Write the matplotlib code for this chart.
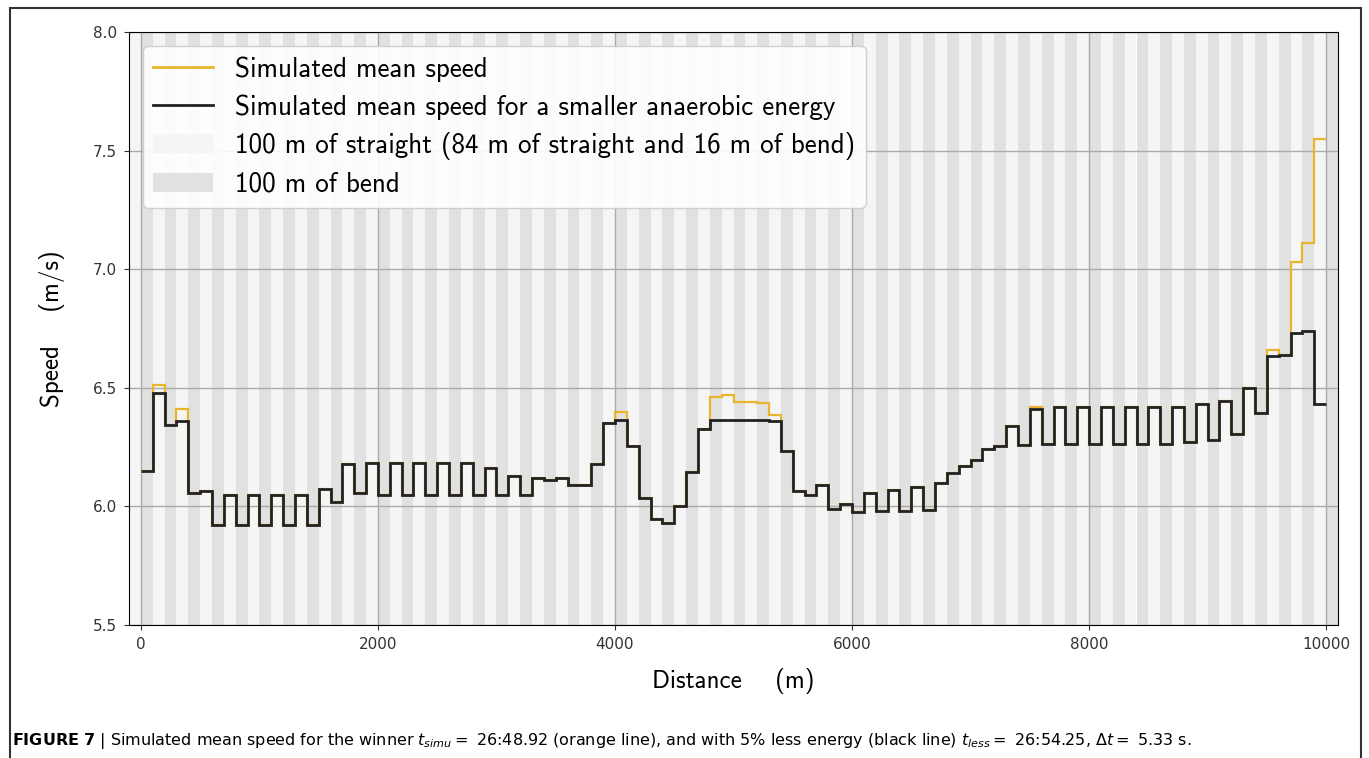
import numpy as np
import matplotlib
matplotlib.use("Agg")
import matplotlib.pyplot as plt
from matplotlib.patches import Patch, Rectangle
from matplotlib.lines import Line2D

# 100 m segments, 0 .. 10000 m
seg_edges = np.arange(0, 10001, 100)

# simulated mean speed (orange)
speed_simu = [
    6.15, 6.51, 6.345, 6.41, 6.055, 6.065, 5.92, 6.05, 5.92, 6.05,
    5.92, 6.05, 5.92, 6.05, 5.92, 6.075, 6.02, 6.18, 6.055, 6.185,
    6.05, 6.185, 6.05, 6.185, 6.05, 6.185, 6.05, 6.185, 6.05, 6.16,
    6.05, 6.13, 6.05, 6.12, 6.11, 6.12, 6.09, 6.09, 6.18, 6.35,
    6.40, 6.255, 6.035, 5.945, 5.93, 6.0, 6.145, 6.325, 6.46, 6.47,
    6.44, 6.44, 6.435, 6.385, 6.235, 6.065, 6.05, 6.09, 5.99, 6.01,
    5.975, 6.055, 5.98, 6.07, 5.98, 6.08, 5.985, 6.10, 6.14, 6.17,
    6.195, 6.24, 6.255, 6.34, 6.26, 6.42, 6.265, 6.42, 6.265, 6.42,
    6.265, 6.42, 6.265, 6.42, 6.265, 6.42, 6.265, 6.42, 6.27, 6.43,
    6.28, 6.445, 6.305, 6.50, 6.395, 6.66, 6.64, 7.03, 7.11, 7.55,
]

# simulated mean speed with a smaller anaerobic energy (black)
speed_less = [
    6.15, 6.48, 6.345, 6.36, 6.055, 6.065, 5.92, 6.05, 5.92, 6.05,
    5.92, 6.05, 5.92, 6.05, 5.92, 6.075, 6.02, 6.18, 6.055, 6.185,
    6.05, 6.185, 6.05, 6.185, 6.05, 6.185, 6.05, 6.185, 6.05, 6.16,
    6.05, 6.13, 6.05, 6.12, 6.11, 6.12, 6.09, 6.09, 6.18, 6.35,
    6.365, 6.255, 6.035, 5.945, 5.93, 6.0, 6.145, 6.325, 6.365, 6.365,
    6.365, 6.365, 6.365, 6.36, 6.235, 6.065, 6.05, 6.09, 5.99, 6.01,
    5.975, 6.055, 5.98, 6.07, 5.98, 6.08, 5.985, 6.10, 6.14, 6.17,
    6.195, 6.24, 6.255, 6.34, 6.26, 6.41, 6.265, 6.42, 6.265, 6.42,
    6.265, 6.42, 6.265, 6.42, 6.265, 6.42, 6.265, 6.42, 6.27, 6.43,
    6.28, 6.445, 6.305, 6.50, 6.395, 6.635, 6.64, 6.73, 6.74, 6.43,
]

x_ticks = [0, 2000, 4000, 6000, 8000, 10000]
y_ticks = [5.5, 6.0, 6.5, 7.0, 7.5, 8.0]

labels = [
    "Simulated mean speed",
    "Simulated mean speed for a smaller anaerobic energy",
    "100 m of straight (84 m of straight and 16 m of bend)",
    "100 m of bend",
]

c_orange = "#e9b52c"
c_black = "#222222"
c_straight = "#f5f5f5"
c_bend = "#e1e1e1"
cm_font = ["cmss10", "DejaVu Sans"]

fig = plt.figure(figsize=(13.69, 7.58), dpi=100)
ax = fig.add_axes([129 / 1369, 1 - 625 / 758, (1338 - 129) / 1369, (625 - 32) / 758])

# alternating straight / bend bands
for i in range(-1, 101):
    ax.axvspan(i * 100, (i + 1) * 100, color=c_bend if i % 2 == 0 else c_straight,
               lw=0, zorder=0)

ax.stairs(speed_simu, seg_edges, color=c_orange, lw=1.6, baseline=None, zorder=3)
ax.stairs(speed_less, seg_edges, color=c_black, lw=2.0, baseline=None, zorder=4)

ax.set_xlim(-100, 10100)
ax.set_ylim(5.5, 8.0)
ax.set_xticks(x_ticks)
ax.set_yticks(y_ticks)
ax.set_yticklabels([f"{v:.1f}" for v in y_ticks])
ax.tick_params(labelsize=11, colors="#333333", pad=5)
ax.grid(True, color="#aaaaaa", lw=1.0)

ax.set_xlabel("Distance    (m)", family=cm_font, fontsize=18, labelpad=12)
ax.set_ylabel("Speed    (m/s)", family=cm_font, fontsize=18, labelpad=20)

handles = [
    Line2D([], [], color=c_orange, lw=2),
    Line2D([], [], color=c_black, lw=2),
    Patch(facecolor=c_straight, edgecolor="none"),
    Patch(facecolor=c_bend, edgecolor="none"),
]
ax.legend(handles, labels, loc="upper left", prop={"family": cm_font, "size": 19.5},
          framealpha=0.9, handlelength=2.2, labelspacing=0.45, borderaxespad=0.5)

# caption
fig.text(12 / 1369, 1 - 741 / 758,
         r"$\mathbf{FIGURE\ 7}$ | Simulated mean speed for the winner $t_{simu}=$ 26:48.92 "
         r"(orange line), and with 5% less energy (black line) $t_{less}=$ 26:54.25, "
         r"$\Delta t=$ 5.33 s.",
         fontsize=11.5, va="center", ha="left")

# frame around the whole figure
fig.patches.append(Rectangle((10 / 1369, -0.01), (1361 - 10) / 1369, 1.01 - 8 / 758,
                             transform=fig.transFigure, fill=False, lw=1.5,
                             ec="#333333"))

fig.savefig("out.png", dpi=100)
